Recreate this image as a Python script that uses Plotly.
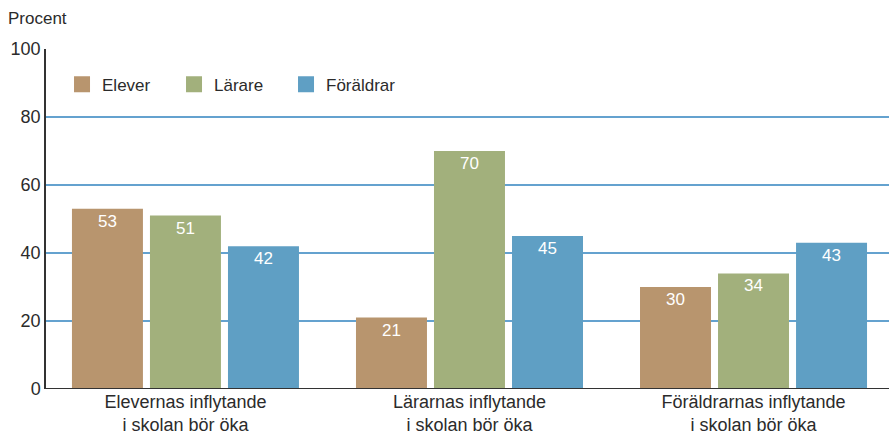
import plotly.graph_objects as go

categories = ["Elevernas inflytande<br>i skolan bör öka",
              "Lärarnas inflytande<br>i skolan bör öka",
              "Föräldrarnas inflytande<br>i skolan bör öka"]
series_names = ["Elever", "Lärare", "Föräldrar"]
elever = [53, 21, 30]
larare = [51, 70, 34]
foraldrar = [42, 45, 43]
y_ticks = [0, 20, 40, 60, 80, 100]

colors = ["#b8956e", "#a2b07c", "#5f9fc4"]
FONT = "Liberation Sans, Arial, sans-serif"
TXT = "#2b2b2b"

xpos = list(range(len(categories)))
fig = go.Figure()
for name, vals, c in zip(series_names, [elever, larare, foraldrar], colors):
    fig.add_trace(go.Bar(
        x=xpos, y=vals, name=name, marker=dict(color=c, line=dict(width=0)),
        text=[str(v) for v in vals], textposition="inside",
        insidetextanchor="end", textangle=0,
        textfont=dict(color="white", size=17, family=FONT),
        showlegend=False, cliponaxis=False, hoverinfo="skip",
    ))
# legend entries
for name, c in zip(series_names, colors):
    fig.add_trace(go.Scatter(
        x=[None], y=[None], mode="markers", name=name,
        marker=dict(symbol="square", size=17, color=c),
    ))

fig.update_layout(
    width=889, height=434,
    margin=dict(l=46, r=0, t=49, b=45, autoexpand=False),
    paper_bgcolor="white", plot_bgcolor="white",
    barmode="group", bargap=0.176, bargroupgap=0.09,
    font=dict(family=FONT, color=TXT, size=17),
    legend=dict(orientation="h", x=0.019, y=0.895, xanchor="left", yanchor="middle",
                entrywidth=67, entrywidthmode="pixels",
                font=dict(size=17, color=TXT), bgcolor="rgba(0,0,0,0)",
                itemsizing="trace", tracegroupgap=0),
    uniformtext=dict(minsize=17, mode="show"),
    xaxis=dict(range=[-0.491, 2.477], tickvals=xpos, ticktext=categories,
               showgrid=False, zeroline=False, showline=False, ticks="",
               automargin=False,
               tickfont=dict(size=18, color=TXT, family=FONT)),
    yaxis=dict(range=[0, 100], tickvals=y_ticks, showgrid=True,
               gridcolor="#64a2cf", gridwidth=1.5, zeroline=False,
               showline=True, linecolor="#333333", linewidth=1.5,
               automargin=False,
               ticks="", ticklen=0, tickfont=dict(size=18, color=TXT, family=FONT)),
    annotations=[dict(text="Procent", xref="paper", yref="paper", x=-40/843, y=1 + 31/340,
                      xanchor="left", yanchor="middle", showarrow=False,
                      font=dict(size=17, color=TXT, family=FONT))],
    shapes=[dict(type="line", xref="paper", yref="y", x0=0, x1=1, y0=0, y1=0,
                 line=dict(color="#333333", width=1.8), layer="above")],
)
fig.write_html("out.html", config={"displayModeBar": False},
               post_script="document.body.style.margin='0';document.body.style.padding='0';")
